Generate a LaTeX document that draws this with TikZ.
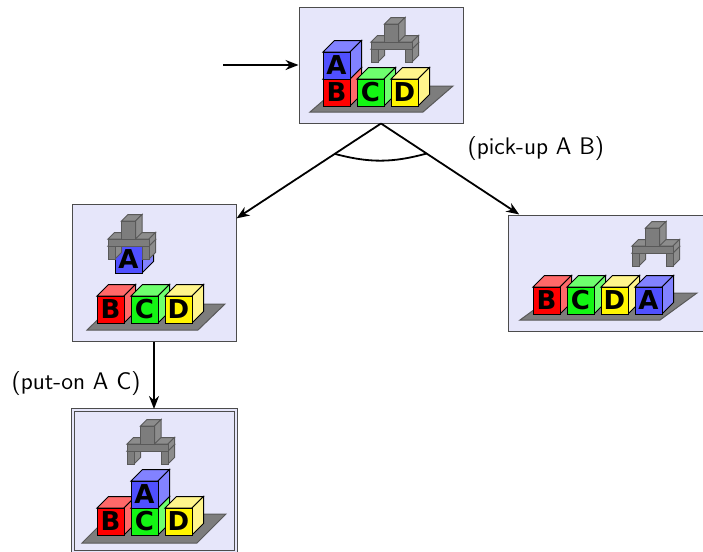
\documentclass[tikz,border=0pt]{standalone}
\usepackage{fontspec}
\newfontfamily\blkfont{DejaVu Sans}
\usepackage{xcolor}
\usepackage{tikz}
\usetikzlibrary{arrows.meta}
\usetikzlibrary{positioning}

\definecolor{fondo}{RGB}{230,230,250}
\definecolor{cubeAf}{RGB}{80,80,255}
\definecolor{cubeAs}{RGB}{130,130,255}
\definecolor{cubeBf}{RGB}{255,0,0}
\definecolor{cubeBs}{RGB}{255,105,105}
\definecolor{cubeCf}{RGB}{20,245,20}
\definecolor{cubeCs}{RGB}{110,255,110}
\definecolor{cubeDf}{RGB}{255,245,0}
\definecolor{cubeDs}{RGB}{255,245,140}
\definecolor{gripf}{RGB}{125,125,125}
\definecolor{grips}{RGB}{140,140,140}
\definecolor{gristabla}{RGB}{125,125,125}

% #1 color, #2 borde, #3 x, #4 y, #5 ancho, #6 alto, #7 fondo
\newcommand{\cuboid}[7]{%
  \filldraw[draw=#2, fill=#1s, line width=0.5pt] (#3,#4) -- ++(#7,-#7) -- ++(#5,0) -- ++(-#7,#7) -- cycle;
  \filldraw[draw=#2, fill=#1s, line width=0.5pt] (#3+#5,#4) -- ++(#7,-#7) -- ++(0,#6) -- ++(-#7,#7) -- cycle;
  \filldraw[draw=#2, fill=#1f, line width=0.5pt] (#3,#4) rectangle ++(#5,#6);}
% #1 estado, #2 x, #3 y, #4 letra
\newcommand{\blk}[4]{%
  \cuboid{cube#4}{black}{#2}{#3}{27}{27}{11.5}
  \node[letra] (#1-#4) at (#2+13.5,#3+13.5) {#4};}
% pinza
\newcommand{\grip}[2]{%
  \cuboid{grip}{black!65}{#1}{#2+7}{7}{13}{6.5}
  \cuboid{grip}{black!65}{#1+34}{#2+7}{7}{13}{6.5}
  \cuboid{grip}{black!65}{#1}{#2}{41}{7}{6.5}
  \cuboid{grip}{black!65}{#1+13.5}{#2-18}{14}{18}{6.5}}
% mesa
\newcommand{\mesa}[5]{%
  \filldraw[tabla] (#1,#2) -- ++(#3,0) -- ++(#4,-#5) -- ++(-#3,0) -- cycle;}

\begin{document}
\begin{tikzpicture}[
    x=0.5pt, y=-0.5pt,
    estado/.style={rectangle, draw=black!70, fill=fondo, line width=0.5pt, inner sep=0pt},
    final/.style={estado, double=fondo, double distance=1pt},
    flecha/.style={-{Stealth[length=6.5pt, width=5pt]}, line width=0.9pt},
    etiqueta/.style={font=\sffamily\large, text=black},
    letra/.style={font=\blkfont\bfseries\fontsize{13pt}{13pt}\selectfont, inner sep=0pt},
    tabla/.style={fill=gristabla, draw=black!65, line width=0.5pt}
]
\useasboundingbox (0,0) rectangle (703,552);

% Estados
\node[estado, minimum width=82pt, minimum height=58pt] (s0) at (381,65) {};
\node[estado, minimum width=82pt, minimum height=68.5pt] (s1) at (154,272.5) {};
\node[estado, minimum width=100pt, minimum height=58pt] (s2) at (608,273) {};
\node[final, minimum width=81.5pt, minimum height=71pt] (s3) at (154,480.5) {};

% Bloques (s0)
\mesa{310}{112}{113}{30}{26}
\blk{s0}{323}{79}{B}
\blk{s0}{323}{52}{A}
\blk{s0}{357}{79}{C}
\blk{s0}{391}{79}{D}
\grip{371}{42}

% Bloques (s1)
\mesa{87}{330}{111}{27}{26}
\blk{s1}{97}{296}{B}
\blk{s1}{131}{296}{C}
\blk{s1}{165}{296}{D}
\blk{s1}{115}{246}{A}
\grip{108}{239}

% Bloques (s2)
\mesa{520}{320}{140}{37}{27}
\blk{s2}{533}{287}{B}
\blk{s2}{567}{287}{C}
\blk{s2}{601}{287}{D}
\blk{s2}{635}{287}{A}
\grip{632}{246}

% Bloques (s3)
\mesa{82}{543}{115}{29}{29}
\blk{s3}{97}{508}{B}
\blk{s3}{131}{508}{C}
\blk{s3}{131}{481}{A}
\blk{s3}{165}{508}{D}
\grip{127}{444}

% Aristas
\coordinate (ini) at (223,65);
\draw[flecha] (ini) -- (s0);
\draw[flecha] (s0.south) -- coordinate[pos=0.32] (arcL) (s1);
\draw[flecha] (s0.south) -- coordinate[pos=0.33] (arcR)
    node[pos=0.5, anchor=south west, xshift=5pt, yshift=0.5pt, etiqueta] (lpick) {(pick-up A B)} (s2);
\draw[line width=0.9pt] (arcL) to[bend right=15] (arcR);
\draw[flecha] (s1) -- node[pos=0.62, left, xshift=-3pt, etiqueta] (lput) {(put-on A C)} (s3);

\end{tikzpicture}
\end{document}
